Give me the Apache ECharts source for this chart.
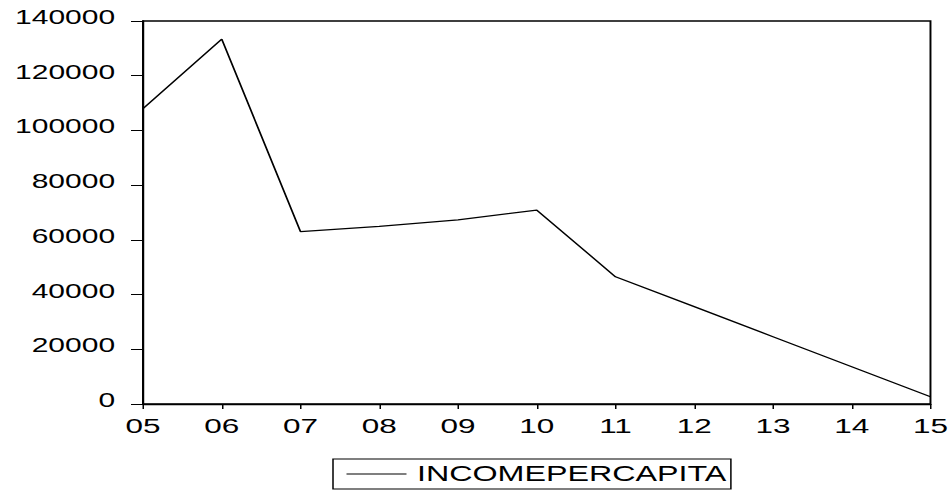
<!DOCTYPE html>
<html>
<head>
<meta charset="utf-8">
<script src="https://cdn.jsdelivr.net/npm/echarts@6/dist/echarts.min.js"></script>
<style>
  html, body { margin: 0; padding: 0; background: #ffffff; overflow: hidden; }
  /* EViews-style wide output: layout is drawn narrow and stretched horizontally */
  #chart { width: 634.667px; height: 493px; transform: scaleX(1.5); transform-origin: 0 0; }
</style>
</head>
<body>
<div id="chart"></div>
<script>
const years = ['05', '06', '07', '08', '09', '10', '11', '12', '13', '14', '15'];
const incomePerCapita = [108000, 133400, 63000, 64900, 67300, 70900, 46500, 35600, 24600, 13650, 2650];
const yTicks = { min: 0, max: 140000, step: 20000 };
const seriesName = 'INCOMEPERCAPITA';

const chart = echarts.init(document.getElementById('chart'), null, { renderer: 'svg' });
const font = 'Liberation Sans, Arial, sans-serif';

chart.setOption({
  animation: false,
  backgroundColor: '#ffffff',
  grid: {
    left: 95.33, right: 14.67, top: 21, bottom: 89,
    show: true, borderColor: '#000', borderWidth: 1.3, backgroundColor: 'transparent'
  },
  legend: {
    data: [{ name: seriesName, icon: 'rect' }],
    left: 222, top: 459,
    itemWidth: 40, itemHeight: 1.2,
    padding: [4, 3, 4, 9],
    borderColor: '#000', borderWidth: 1,
    itemStyle: { color: '#000' },
    textStyle: { fontFamily: font, fontSize: 21.5, color: '#000', padding: [0, 0, 0, 2] }
  },
  xAxis: {
    type: 'category',
    data: years,
    boundaryGap: false,
    axisLine: { lineStyle: { color: '#000', width: 1.3 } },
    axisTick: { alignWithLabel: true, inside: false, length: 5, lineStyle: { color: '#000', width: 1 } },
    axisLabel: { color: '#000', fontFamily: font, fontSize: 21, margin: 11 },
    splitLine: { show: false }
  },
  yAxis: {
    type: 'value',
    min: yTicks.min, max: yTicks.max, interval: yTicks.step,
    axisLine: { show: true, lineStyle: { color: '#000', width: 1.3 } },
    axisTick: { show: true, length: 8, lineStyle: { color: '#000', width: 1 } },
    axisLabel: {
      color: '#000', fontFamily: font, fontSize: 20, margin: 18.6,
      verticalAlign: 'bottom', lineHeight: 8,
      formatter: (v) => String(v)
    },
    splitLine: { show: false }
  },
  series: [{
    name: seriesName,
    type: 'line',
    data: incomePerCapita,
    showSymbol: false,
    symbol: 'none',
    lineStyle: { color: '#000', width: 1.2 },
    itemStyle: { color: '#000' }
  }]
});
</script>
</body>
</html>
